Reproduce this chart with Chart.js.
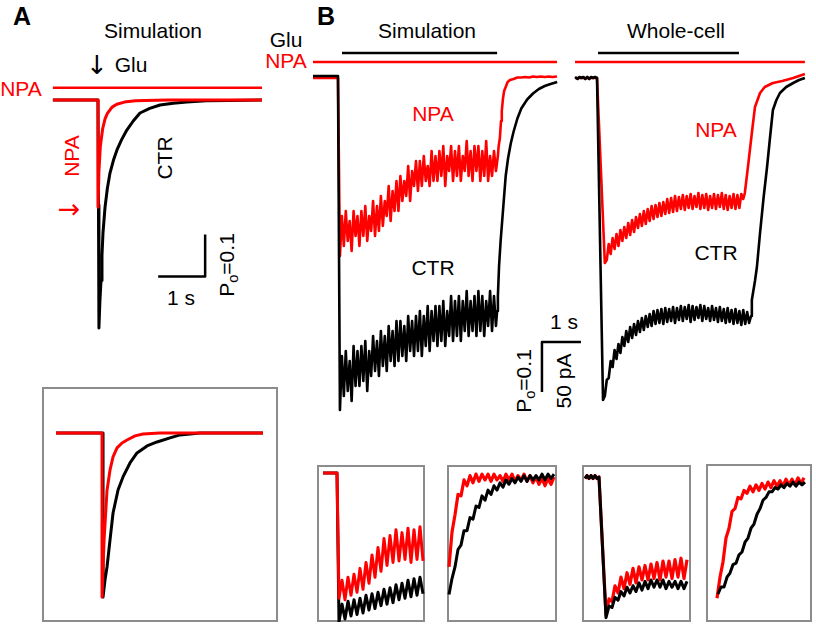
<!DOCTYPE html>
<html>
<head>
<meta charset="utf-8">
<title>NPA simulation vs whole-cell</title>
<script src="https://cdn.jsdelivr.net/npm/chart.js"></script>
<style>
  body { margin: 0; background: #fff; }
  #fig { position: relative; width: 816px; height: 626px; overflow: hidden; background: #fff; }
  #fig canvas { position: absolute; }
  .t { position: absolute; transform: translate(-50%, -50%); line-height: 1; white-space: nowrap;
       font: 21px "Liberation Sans", Arial, sans-serif; color: #000; }
  .r { transform: translate(-50%, -50%) rotate(-90deg); }
  .red { color: #ff0000; }
  .big { font-weight: bold; font-size: 25px; }
  .arrow { font-family: "DejaVu Sans", sans-serif; font-weight: normal; }
  .box { position: absolute; border: 2px solid #8c8c8c; box-sizing: border-box; }
  sub { font-size: 0.7em; vertical-align: -0.3em; line-height: 0; }
</style>
</head>
<body>
<div id="fig">
  <div class="box" style="left:42px;top:387px;width:236px;height:235px"></div>
  <div class="box" style="left:317px;top:465px;width:108px;height:157px"></div>
  <div class="box" style="left:447px;top:465px;width:110px;height:157px"></div>
  <div class="box" style="left:582px;top:465px;width:109px;height:157px"></div>
  <div class="box" style="left:706px;top:464px;width:106px;height:158px"></div>

  <div class="t big" style="left:22px;top:16px">A</div>
  <div class="t" style="left:153px;top:31px">Simulation</div>
  <div class="t arrow" style="left:97px;top:65px;font-size:26px">↓</div>
  <div class="t" style="left:131px;top:65px">Glu</div>
  <div class="t red" style="left:21px;top:89px">NPA</div>
  <div class="t r red" style="left:72px;top:156px">NPA</div>
  <div class="t r" style="left:165px;top:158px">CTR</div>
  <div class="t red arrow" style="left:69px;top:208px;font-size:27px">→</div>
  <div class="t" style="left:181px;top:298px">1 s</div>
  <div class="t r" style="left:227px;top:265px">P<sub>o</sub>=0.1</div>

  <div class="t big" style="left:326px;top:16px">B</div>
  <div class="t" style="left:427px;top:31px">Simulation</div>
  <div class="t" style="left:676px;top:31px">Whole-cell</div>
  <div class="t" style="left:286px;top:40px">Glu</div>
  <div class="t red" style="left:286px;top:61px">NPA</div>
  <div class="t red" style="left:433px;top:114px">NPA</div>
  <div class="t" style="left:433px;top:268px">CTR</div>
  <div class="t red" style="left:716px;top:130px">NPA</div>
  <div class="t" style="left:716px;top:253px">CTR</div>
  <div class="t" style="left:564px;top:322px">1 s</div>
  <div class="t r" style="left:524px;top:381px">P<sub>o</sub>=0.1</div>
  <div class="t r" style="left:564px;top:381px">50 pA</div>
</div>

<script>
  const RED = "#ff0000";
  const BLACK = "#000000";

  // ---------- Panel A: simulation, Po vs time (s, 0 = Glu onset)
  const aNpaT  = [-0.96, 0, 0, 0.02, 0.05, 0.1, 0.15, 0.2, 0.3, 0.4, 0.6, 0.8, 1.0, 1.5, 3.49];
  const aNpaPo = [0, 0, 0.255, 0.17, 0.11, 0.068, 0.045, 0.032, 0.017, 0.01, 0.004, 0.002, 0.001, 0, 0];
  const aCtrT  = [-0.96, 0, 0.01, 0.02, 0.04, 0.064, 0.085, 0.106, 0.15, 0.2, 0.255, 0.33, 0.404, 0.5,
                  0.617, 0.75, 0.894, 1.1, 1.32, 1.6, 1.89, 2.3, 2.8, 3.49];
  const aCtrPo = [0, 0, 0.25, 0.543, 0.48, 0.43, 0.37, 0.317, 0.255, 0.21, 0.174, 0.143, 0.119, 0.095,
                  0.071, 0.05, 0.031, 0.02, 0.012, 0.008, 0.005, 0.002, 0.001, 0];
  const aDrugT = [-0.96, 3.49];          // NPA application
  const aDrugPo = [-0.029, -0.029];
  const aScaleT = [1.28, 2.28, 2.28];    // 1 s, Po 0.1
  const aScalePo = [0.42, 0.42, 0.32];

  // inset A, normalized to peak
  const insANpaT = [0.298, 1.277, 1.277, 1.319, 1.383, 1.447, 1.511, 1.596, 1.702, 1.809, 1.979, 2.149, 2.51, 4.70];
  const insANpa  = [0, 0, 1.0, 0.66, 0.35, 0.226, 0.146, 0.091, 0.061, 0.043, 0.018, 0.006, 0, 0];
  const insACtrT = [0.298, 1.298, 1.298, 1.34, 1.383, 1.447, 1.511, 1.617, 1.723, 1.872, 2.021, 2.234,
                    2.447, 2.723, 2.936, 3.36, 4.70];
  const insACtr  = [0, 0, 1.0, 0.896, 0.817, 0.652, 0.488, 0.348, 0.268, 0.183, 0.122, 0.079,
                    0.055, 0.03, 0.012, 0, 0];

  // ---------- Panel B simulation (Po), sampled every 50 ms during Glu
  const simT0 = 0.05, simDt = 0.05;
  const simNpa = [
    0.36, 0.28, 0.34, 0.27, 0.33, 0.29, 0.35, 0.27, 0.32, 0.28,
    0.34, 0.27, 0.32, 0.26, 0.33, 0.28, 0.31, 0.25, 0.32, 0.26,
    0.31, 0.24, 0.30, 0.25, 0.28, 0.22, 0.29, 0.23, 0.27, 0.21,
    0.27, 0.20, 0.25, 0.21, 0.24, 0.18, 0.25, 0.19, 0.22, 0.17,
    0.23, 0.17, 0.22, 0.16, 0.21, 0.18, 0.22, 0.15, 0.21, 0.16,
    0.21, 0.15, 0.20, 0.14, 0.22, 0.16, 0.19, 0.14, 0.21, 0.15,
    0.20, 0.14, 0.21, 0.16, 0.19, 0.13, 0.20, 0.15, 0.21, 0.14,
    0.19, 0.14, 0.21, 0.15, 0.20, 0.13, 0.21, 0.16, 0.20, 0.15, 0.19];
  const simCtr = [
    0.668, 0.56, 0.64, 0.55, 0.63, 0.57, 0.65, 0.54, 0.62, 0.55,
    0.62, 0.54, 0.61, 0.53, 0.63, 0.55, 0.60, 0.52, 0.59, 0.53,
    0.60, 0.51, 0.58, 0.52, 0.59, 0.50, 0.57, 0.51, 0.58, 0.49,
    0.57, 0.49, 0.56, 0.50, 0.57, 0.48, 0.55, 0.49, 0.56, 0.48,
    0.55, 0.47, 0.56, 0.48, 0.54, 0.46, 0.55, 0.47, 0.53, 0.46,
    0.54, 0.46, 0.53, 0.45, 0.54, 0.47, 0.52, 0.44, 0.53, 0.45,
    0.52, 0.44, 0.53, 0.45, 0.51, 0.43, 0.52, 0.45, 0.51, 0.44,
    0.52, 0.43, 0.51, 0.44, 0.52, 0.45, 0.50, 0.43, 0.51, 0.44, 0.50];
  const simNpaHeadT = [-0.641, 0], simNpaHeadPo = [0.004, 0.004];
  const simNpaTailT = [4.1, 4.12, 4.15, 4.18, 4.2, 4.23, 4.26, 4.3, 4.35, 4.41, 4.5, 4.6, 4.7, 4.8, 4.9,
                       5.0, 5.1, 5.2, 5.3, 5.4, 5.5, 5.615];
  const simNpaTailPo = [0.16, 0.14, 0.125, 0.09, 0.07, 0.045, 0.03, 0.022, 0.012, 0.008, 0.006, 0.003,
                        0.003, 0.002, 0.003, 0.001, 0.002, 0.001, 0.002, 0.001, 0.002, 0.001];
  const simCtrHeadT = [-0.641, 0], simCtrHeadPo = [0, 0];
  const simCtrTailT = [4.08, 4.1, 4.13, 4.17, 4.2, 4.25, 4.3, 4.36, 4.43, 4.5, 4.6, 4.7, 4.85, 5.0,
                       5.15, 5.3, 5.45, 5.62];
  const simCtrTailPo = [0.47, 0.44, 0.38, 0.33, 0.30, 0.25, 0.20, 0.165, 0.135, 0.112, 0.085, 0.065,
                        0.047, 0.035, 0.026, 0.02, 0.016, 0.012];
  const simGluT = [0.103, 4.08], simGluPo = [-0.046, -0.046];
  const simDrugT = [-0.641, 5.615], simDrugPo = [-0.028, -0.028];
  const scaleBT = [5.23, 5.23, 6.23], scaleBPo = [0.632, 0.532, 0.532];

  // ---------- Panel B whole-cell (pA), sampled every 50 ms
  const wcCtrT0 = 0.2, wcNpaT0 = 0.25, wcDt = 0.05;
  const wcCtr = [
    -318, -302, -300, -283, -289, -272, -281, -266, -275, -259,
    -268, -253, -264, -249, -260, -246, -257, -243, -254, -240,
    -252, -238, -249, -236, -248, -233, -246, -232, -245, -231,
    -246, -230, -244, -231, -243, -229, -245, -230, -242, -228,
    -243, -229, -241, -227, -244, -228, -242, -229, -240, -227,
    -243, -228, -241, -230, -243, -228, -242, -230, -244, -229,
    -243, -231, -245, -230, -244, -232, -246, -231, -245, -233,
    -247, -232, -246, -234, -245];
  const wcNpa = [
    -182, -166, -176, -160, -171, -156, -168, -152, -163, -149,
    -160, -145, -157, -142, -154, -139, -150, -136, -148, -133,
    -146, -131, -143, -128, -141, -127, -139, -125, -138, -124,
    -136, -121, -135, -120, -134, -118, -133, -119, -131, -117,
    -132, -118, -130, -116, -131, -118, -129, -115, -131, -117,
    -130, -116, -132, -118, -130, -116, -131, -117, -129, -115,
    -131, -117, -132, -118, -130, -116, -131, -117, -130, -116];
  const wcCtrHeadT = [-0.564, -0.5, -0.45, -0.4, -0.35, -0.3, -0.25, -0.2, -0.15, -0.1, -0.05, 0, 0.154];
  const wcCtrHeadI = [1, -1, 1, 0, 1, -1, 1, -1, 1, 0, 1, 0, -322];
  const wcCtrTailT = [3.95, 3.97, 4.05, 4.1, 4.18, 4.27, 4.36, 4.44, 4.51, 4.6, 4.69, 4.85, 5.03, 5.18, 5.33];
  const wcCtrTailI = [-238, -222, -203, -189, -155, -120, -89, -58, -32, -22, -15, -9, -5, -2, 0];
  const wcNpaHeadT = [-0.564, 0, 0.2], wcNpaHeadI = [0, 0, -185];
  const wcNpaTailT = [3.75, 3.79, 3.87, 3.97, 4.05, 4.18, 4.3, 4.51, 4.75, 5.03, 5.18, 5.33];
  const wcNpaTailI = [-121, -115, -89, -55, -29, -15, -9, -5, -3, 0, 2, 4];
  const wcGluT = [0.026, 3.64], wcGluI = [25, 25];
  const wcDrugT = [-0.564, 5.33], wcDrugI = [16, 16];

  // ---------- B insets (normalized), sampled every 75 ms
  const insDt = 0.075;
  const ins1HeadT = [0.15, 0.5], ins1Head = [0, 0];
  const ins1T0 = 0.55;
  const ins1Ctr = [1.0, 0.88, 0.98, 0.86, 0.96, 0.85, 0.95, 0.84, 0.94, 0.82, 0.92, 0.81, 0.91, 0.80,
                   0.89, 0.78, 0.88, 0.77, 0.87, 0.75, 0.85, 0.74, 0.84, 0.72, 0.83, 0.71, 0.82, 0.70, 0.81];
  const ins1Npa = [0.84, 0.72, 0.85, 0.70, 0.82, 0.68, 0.80, 0.64, 0.78, 0.60, 0.74, 0.55, 0.70, 0.50,
                   0.66, 0.44, 0.62, 0.42, 0.60, 0.38, 0.59, 0.40, 0.58, 0.37, 0.60, 0.38, 0.58, 0.36, 0.59];
  const ins2T0 = 0.05;
  const ins2Npa = [0.62, 0.38, 0.26, 0.12, 0.13, 0.02, 0.06, -0.01, 0.04, -0.02, 0.03, -0.02, 0.02, -0.02,
                   0.03, -0.02, 0.02, -0.01, 0.03, -0.02, 0.02, -0.02, 0.03, -0.01, 0.02, -0.02, 0.03, -0.01,
                   0.04, 0.0, 0.05, 0.01, 0.06, 0.01, 0.05, 0.0];
  const ins2Ctr = [0.81, 0.70, 0.62, 0.50, 0.47, 0.37, 0.37, 0.28, 0.29, 0.20, 0.21, 0.13, 0.16, 0.09,
                   0.12, 0.06, 0.09, 0.04, 0.07, 0.02, 0.05, 0.01, 0.04, 0.0, 0.03, -0.01, 0.03, -0.01,
                   0.02, -0.01, 0.02, -0.02, 0.02, -0.02, 0.01, -0.02];
  const ins3HeadT = [0.075, 0.125, 0.175, 0.225, 0.275, 0.325, 0.375, 0.425];
  const ins3Head = [0.01, -0.01, 0.01, -0.01, 0.01, -0.01, 0.01, 0];
  const ins3T0 = 0.6;
  const ins3Ctr = [0.97, 0.89, 0.90, 0.83, 0.85, 0.79, 0.82, 0.76, 0.80, 0.75, 0.79, 0.73, 0.78, 0.72,
                   0.77, 0.71, 0.76, 0.71, 0.76, 0.71, 0.77, 0.72, 0.76, 0.72, 0.77, 0.72, 0.77, 0.72];
  const ins3Npa = [0.95, 0.84, 0.86, 0.75, 0.80, 0.69, 0.77, 0.66, 0.74, 0.63, 0.73, 0.62, 0.71, 0.61,
                   0.71, 0.60, 0.70, 0.59, 0.71, 0.58, 0.69, 0.58, 0.70, 0.57, 0.69, 0.56, 0.70, 0.57];
  const ins4NpaT0 = 0.275, ins4CtrT0 = 0.3;
  const ins4Npa = [0.83, 0.68, 0.57, 0.40, 0.33, 0.21, 0.19, 0.11, 0.12, 0.06, 0.08, 0.03, 0.07, 0.02,
                   0.06, 0.01, 0.05, 0.0, 0.04, -0.01, 0.03, -0.01, 0.03, -0.02, 0.02, -0.02, 0.02, -0.03,
                   0.01, -0.03];
  const ins4Ctr = [0.80, 0.75, 0.75, 0.68, 0.65, 0.59, 0.58, 0.52, 0.50, 0.43, 0.40, 0.33, 0.30, 0.23,
                   0.19, 0.13, 0.11, 0.07, 0.07, 0.04, 0.05, 0.02, 0.04, 0.01, 0.03, 0.0, 0.03, 0.0, 0.02, 0.0];

  // ---------- helpers
  function zip(ts, vs) { return ts.map((t, i) => ({ x: t, y: vs[i] })); }
  function sampled(t0, dt, vs) { return vs.map((v, i) => ({ x: t0 + i * dt, y: v })); }

  function line(data, color, width, order) {
    return { data: data, borderColor: color, borderWidth: width, fill: false, pointRadius: 0,
             tension: 0, clip: false, order: order, borderJoinStyle: "round" };
  }

  function panel(left, top, w, h, xMin, xMax, yMin, yMax, reverse, datasets) {
    const c = document.createElement("canvas");
    c.width = w; c.height = h;
    c.style.left = left + "px"; c.style.top = top + "px";
    document.getElementById("fig").appendChild(c);
    return new Chart(c.getContext("2d"), {
      type: "line",
      data: { datasets: datasets },
      options: {
        responsive: false, animation: false, devicePixelRatio: 1,
        layout: { padding: 0 },
        plugins: { legend: { display: false }, tooltip: { enabled: false } },
        scales: {
          x: { type: "linear", display: false, min: xMin, max: xMax },
          y: { type: "linear", display: false, min: yMin, max: yMax, reverse: reverse }
        }
      }
    });
  }

  // A main
  panel(40, 80, 230, 260, -1.234, 3.66, -0.0476, 0.5714, true, [
    line(zip(aNpaT, aNpaPo), RED, 3, 0),
    line(zip(aCtrT, aCtrPo), BLACK, 3, 1),
    line(zip(aDrugT, aDrugPo), RED, 2.5, 2),
    line(zip(aScaleT, aScalePo), BLACK, 2.5, 3)
  ]);

  // A inset
  panel(42, 387, 236, 235, 0, 5.02, -0.28, 1.152, true, [
    line(zip(insANpaT, insANpa), RED, 3, 0),
    line(zip(insACtrT, insACtr), BLACK, 3, 1)
  ]);

  // B simulation
  panel(300, 40, 295, 380, -0.974, 6.59, -0.072, 0.688, true, [
    line(zip(simCtrHeadT, simCtrHeadPo).concat(sampled(simT0, simDt, simCtr), zip(simCtrTailT, simCtrTailPo)), BLACK, 2.6, 0),
    line(zip(simNpaHeadT, simNpaHeadPo).concat(sampled(simT0, simDt, simNpa), zip(simNpaTailT, simNpaTailPo)), RED, 2.6, 1),
    line(zip(simGluT, simGluPo), BLACK, 2.5, 2),
    line(zip(simDrugT, simDrugPo), RED, 2.5, 3),
    line(zip(scaleBT, scaleBPo), BLACK, 2.5, 4)
  ]);

  // B whole-cell
  panel(565, 40, 251, 380, -0.821, 5.615, -342, 38, false, [
    line(zip(wcCtrHeadT, wcCtrHeadI).concat(sampled(wcCtrT0, wcDt, wcCtr), zip(wcCtrTailT, wcCtrTailI)), BLACK, 2.6, 0),
    line(zip(wcNpaHeadT, wcNpaHeadI).concat(sampled(wcNpaT0, wcDt, wcNpa), zip(wcNpaTailT, wcNpaTailI)), RED, 2.6, 1),
    line(zip(wcGluT, wcGluI), BLACK, 2.5, 2),
    line(zip(wcDrugT, wcDrugI), RED, 2.5, 3)
  ]);

  // B insets
  panel(317, 465, 108, 157, 0, 2.7, -0.054, 1.0, true, [
    line(zip(ins1HeadT, ins1Head).concat(sampled(ins1T0, insDt, ins1Npa)), RED, 3, 0),
    line(zip(ins1HeadT, ins1Head).concat(sampled(ins1T0, insDt, ins1Ctr)), BLACK, 3, 1)
  ]);
  panel(447, 465, 110, 157, 0, 2.75, -0.083, 1.0, true, [
    line(sampled(ins2T0, insDt, ins2Ctr), BLACK, 3, 0),
    line(sampled(ins2T0, insDt, ins2Npa), RED, 3.2, 1)
  ]);
  panel(582, 465, 109, 157, 0, 2.725, -0.083, 1.0, true, [
    line(zip(ins3HeadT, ins3Head).concat(sampled(ins3T0, insDt, ins3Ctr)), BLACK, 3, 0),
    line(zip(ins3HeadT, ins3Head).concat(sampled(ins3T0, insDt, ins3Npa)), RED, 3.2, 1)
  ]);
  panel(706, 464, 106, 158, 0, 2.65, -0.129, 1.0, true, [
    line(sampled(ins4CtrT0, insDt, ins4Ctr), BLACK, 3, 0),
    line(sampled(ins4NpaT0, insDt, ins4Npa), RED, 3.2, 1)
  ]);
</script>
</body>
</html>
